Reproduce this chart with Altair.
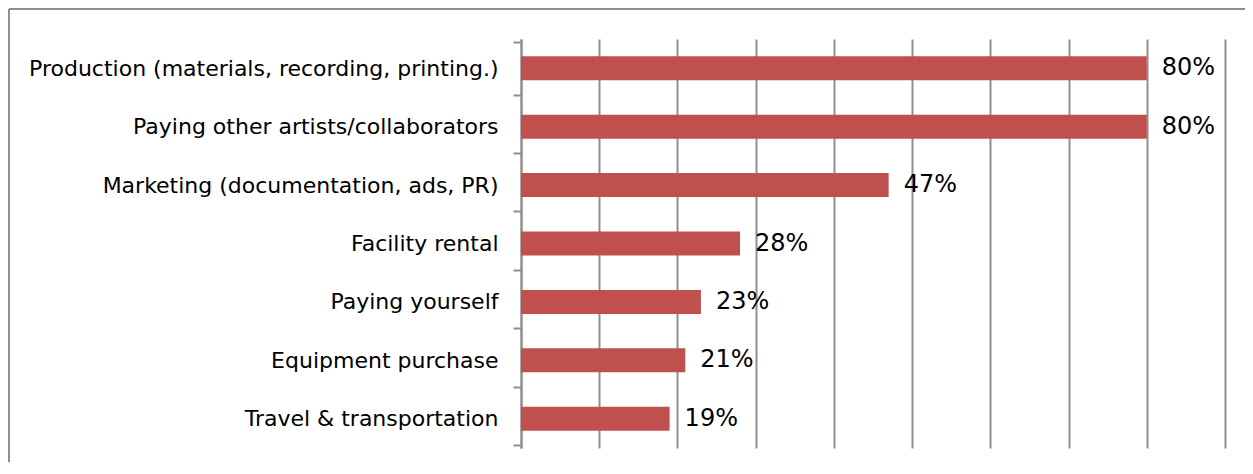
import altair as alt
import pandas as pd

categories = [
    "Production (materials, recording, printing.)",
    "Paying other artists/collaborators",
    "Marketing (documentation, ads, PR)",
    "Facility rental",
    "Paying yourself",
    "Equipment purchase",
    "Travel & transportation",
]
values = [80, 80, 47, 28, 23, 21, 19]
x_ticks = [0, 10, 20, 30, 40, 50, 60, 70, 80, 90]

df = pd.DataFrame({"category": categories, "value": values})

GRAY = "#8f8f8f"
FONT = "DejaVu Sans"

y_enc = alt.Y(
    "category:N",
    sort=categories,
    title=None,
    axis=alt.Axis(
        domainColor=GRAY,
        domainWidth=2,
        tickColor=GRAY,
        tickWidth=2,
        tickSize=8,
        tickBand="extent",
        labelFontSize=22,
        labelFont=FONT,
        labelColor="#000000",
        labelPadding=15,
        labelLimit=0,
        grid=False,
    ),
)
x_enc = alt.X(
    "value:Q",
    title=None,
    scale=alt.Scale(domain=[0, 90], nice=False, zero=True),
    axis=alt.Axis(
        values=x_ticks,
        labels=False,
        ticks=False,
        domain=False,
        grid=True,
        gridColor=GRAY,
        gridWidth=2,
        orient="bottom",
    ),
)

base = alt.Chart(df)
bars = base.mark_bar(color="#C0504D", size=24).encode(x=x_enc, y=y_enc)
labels = (
    base.transform_calculate(label="datum.value + '%'")
    .mark_text(align="left", baseline="middle", dx=15, fontSize=24, font=FONT, color="#000000")
    .encode(x="value:Q", y=alt.Y("category:N", sort=categories), text="label:N")
)

frame_df = pd.DataFrame({"a": [0]})
top_border = alt.Chart(frame_df).mark_rule(color=GRAY, strokeWidth=2).encode(
    x=alt.value(-512), x2=alt.value(724), y=alt.value(-30)
)
left_border = alt.Chart(frame_df).mark_rule(color=GRAY, strokeWidth=2).encode(
    x=alt.value(-512), y=alt.value(-30), y2=alt.value(423)
)

chart = (
    alt.layer(bars, labels, top_border, left_border)
    .properties(
        width=704,
        height=409,
        autosize=alt.AutoSizeParams(type="none"),
        padding={"left": 513, "top": 31, "right": 20, "bottom": 14},
    )
    .configure_view(stroke=None)
)

chart.save("out.html", embed_options={"renderer": "svg", "actions": False})
